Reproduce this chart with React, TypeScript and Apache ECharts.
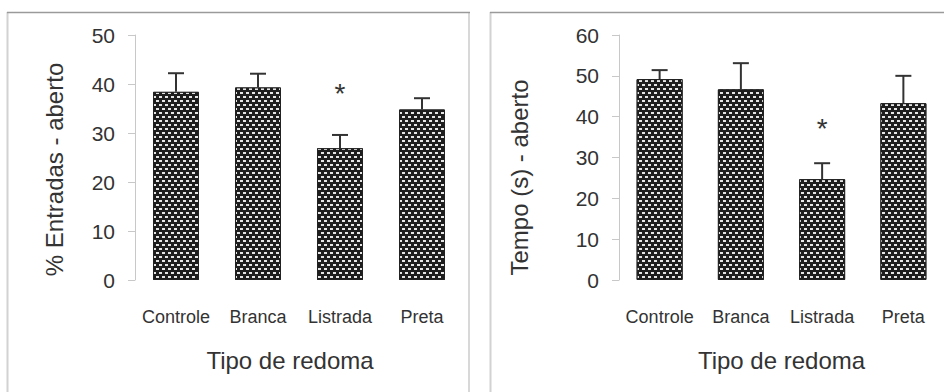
import React, { useEffect, useRef } from "react";
import * as echarts from "echarts";

const categories = ["Controle", "Branca", "Listrada", "Preta"];
const entradasMean = [38.4, 39.3, 26.9, 34.8];
const entradasErr = [42.2, 42.1, 29.6, 37.1];
const tempoMean = [49.2, 46.7, 24.7, 43.3];
const tempoErr = [51.4, 53.1, 28.6, 50.0];
// significance marks: [category index, value position]
const entradasStars = [[2, 38.0]];
const tempoStars = [[2, 37.0]];

const leftYName = "% Entradas - aberto";
const rightYName = "Tempo (s) - aberto";
const xName = "Tipo de redoma";

const TEXT = "#333333";
const AXIS = "#c8c8c8";
const FONT = "Liberation Sans, Arial, sans-serif";

const decal = {
  symbol: "rect",
  symbolSize: 1,
  color: "rgba(240,240,240,0.95)",
  dashArrayX: [
    [2.8, 2.6],
    [0, 2.7, 2.8, 0],
  ],
  dashArrayY: [1.1, 1.8],
  rotation: 0,
};

function errorRender(params: any, api: any) {
  const x = api.value(0);
  const p0 = api.coord([x, api.value(1)]);
  const p1 = api.coord([x, api.value(2)]);
  const half = 8;
  const st = { stroke: "#333333", lineWidth: 2 };
  return {
    type: "group",
    children: [
      { type: "line", shape: { x1: p0[0], y1: p0[1], x2: p1[0], y2: p1[1] }, style: st },
      { type: "line", shape: { x1: p1[0] - half, y1: p1[1], x2: p1[0] + half, y2: p1[1] }, style: st },
    ],
  };
}

function starRender(params: any, api: any) {
  const p = api.coord([api.value(0), api.value(1)]);
  return {
    type: "text",
    x: p[0],
    y: p[1],
    style: {
      text: "*",
      fill: TEXT,
      font: `28px ${FONT}`,
      align: "center",
      verticalAlign: "middle",
    },
  };
}

export default function App() {
  const ref = useRef<HTMLDivElement>(null);
  useEffect(() => {
    const chart = echarts.init(ref.current!, undefined, { renderer: "svg" });
    const mkX = (gi: number) => ({
      type: "category",
      gridIndex: gi,
      data: categories,
      axisLine: { show: false },
      axisTick: { show: false },
      axisLabel: { color: TEXT, fontSize: 18, fontFamily: FONT, margin: 28, interval: 0 },
      name: xName,
      nameLocation: "middle",
      nameGap: 68,
      nameTextStyle: { color: TEXT, fontSize: 24, fontFamily: FONT, padding: gi === 0 ? [0, 18, 0, 0] : [0, 0, 0, 0] },
    });
    const mkY = (gi: number, max: number, name: string, shift: number, gap: number) => ({
      type: "value",
      gridIndex: gi,
      min: 0,
      max,
      interval: 10,
      splitLine: { show: false },
      axisLine: { show: true, lineStyle: { color: AXIS, width: 1 } },
      axisTick: { show: true, length: 7, lineStyle: { color: AXIS } },
      axisLabel: { color: TEXT, fontSize: 21, fontFamily: FONT, margin: 20 },
      name,
      nameLocation: "middle",
      nameGap: gap,
      nameTextStyle: { color: TEXT, fontSize: 24, fontFamily: FONT, padding: [0, shift, 0, 0] },
    });
    const barSeries = (gi: number, data: number[]) => ({
      type: "bar",
      xAxisIndex: gi,
      yAxisIndex: gi,
      data,
      barWidth: 46,
      itemStyle: { color: "#1e1e1e", borderColor: "#222", borderWidth: 1, decal },
    });
    const errSeries = (gi: number, mean: number[], err: number[]) => ({
      type: "custom",
      xAxisIndex: gi,
      yAxisIndex: gi,
      renderItem: errorRender,
      data: mean.map((m, i) => [i, m, err[i]]),
      z: 3,
    });
    const starSeries = (gi: number, stars: number[][]) => ({
      type: "custom",
      xAxisIndex: gi,
      yAxisIndex: gi,
      renderItem: starRender,
      data: stars,
      z: 4,
    });
    chart.setOption({
      animation: false,
      backgroundColor: "#ffffff",
      aria: { enabled: true, decal: { show: true } },
      grid: [
        { left: 135, top: 35, width: 328, height: 245 },
        { left: 619, top: 35, width: 328, height: 245 },
      ],
      xAxis: [mkX(0), mkX(1)],
      yAxis: [mkY(0, 50, leftYName, 24, 69), mkY(1, 60, rightYName, 40, 88)],
      series: [
        barSeries(0, entradasMean),
        errSeries(0, entradasMean, entradasErr),
        starSeries(0, entradasStars),
        barSeries(1, tempoMean),
        errSeries(1, tempoMean, tempoErr),
        starSeries(1, tempoStars),
      ],
      graphic: [
        { type: "line", shape: { x1: 7.5, y1: 12, x2: 7.5, y2: 400 }, style: { stroke: "#d2d2d2", lineWidth: 2 } },
        { type: "line", shape: { x1: 469, y1: 12, x2: 469, y2: 400 }, style: { stroke: "#d8d8d8", lineWidth: 2 } },
        { type: "line", shape: { x1: 7, y1: 12.5, x2: 470, y2: 12.5 }, style: { stroke: "#9a9a9a", lineWidth: 1.5 } },
        { type: "line", shape: { x1: 490.5, y1: 12, x2: 490.5, y2: 400 }, style: { stroke: "#d2d2d2", lineWidth: 2 } },
        { type: "line", shape: { x1: 490, y1: 12.5, x2: 944, y2: 12.5 }, style: { stroke: "#9a9a9a", lineWidth: 1.5 } },
      ],
    });
    return () => chart.dispose();
  }, []);
  return (
    <div
      ref={ref}
      style={{ position: "absolute", left: 0, top: 0, width: 944, height: 392 }}
    />
  );
}
